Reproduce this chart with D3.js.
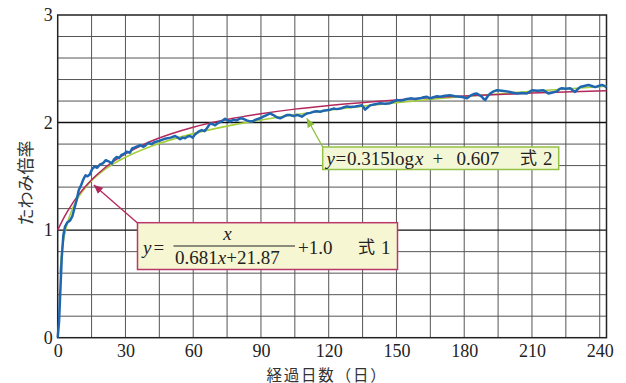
<!DOCTYPE html>
<html>
<head>
<meta charset="utf-8">
<script src="https://cdn.jsdelivr.net/npm/d3@7"></script>
<style>
  body { margin: 0; background: #fff; }
  svg { display: block; }
</style>
</head>
<body>
<div id="chart"></div>
<script>
var days = [0, 0.6, 1.2, 1.8, 2.5, 3.2, 4.2, 5.5, 6.5, 7.5, 8.4, 9.3, 10.4, 11.3, 12.3, 13.2, 14.3, 15.3, 16.3, 17.5,
  18.7, 20, 21.3, 22.5, 23.9, 25, 26.1, 27.2, 28.3, 29.5, 30.5, 32, 33, 34.2, 35.4, 36.5, 38, 39, 40.1, 41.5,
  43.1, 45, 47.5, 50, 52, 53.2, 54.2, 55.3, 56.4, 57.5, 58.6, 59.8, 60.8, 62.3, 63.8, 65, 66, 67.5, 68.7, 69.7,
  71, 72.5, 74.1, 75.2, 76.3, 77.8, 79.3, 80.8, 82.2, 83.7, 85.2, 86.6, 88, 89.6, 91, 92.5, 94, 95.5, 97, 98.5,
  100, 101.4, 102.9, 104.4, 105.9, 107, 108.1, 109.2, 110.3, 111.8, 113.2, 114.7, 116.2, 117.6, 119.1, 120.6, 122.1, 123.6, 125.1, 126.5,
  128, 129.8, 131.7, 133.2, 134.7, 135.5, 136.1, 137.2, 138.3, 140.5, 142.8, 145, 147.2, 148.7, 150.2, 151.7, 153.2, 154.6, 156.1, 158.3,
  160.5, 162, 163.5, 164.9, 166.4, 168, 169.3, 171.5, 173.7, 175.9, 178.2, 179.7, 181.2, 182.7, 184.2, 185.6, 186.7, 187.8, 188.6, 189.3,
  190.4, 191.5, 193, 194.5, 196.7, 198.9, 201.1, 203.3, 205.5, 207.7, 208.9, 210, 212.5, 215.1, 216.2, 217.3, 219.1, 221, 222.1, 223.2,
  225, 226.9, 228, 229.1, 230.2, 231.3, 233.1, 235, 236.5, 238, 239.5, 241, 242, 243];
var ratios = [0, 0.15, 0.45, 0.75, 0.95, 1.03, 1.07, 1.09, 1.13, 1.21, 1.28, 1.37, 1.42, 1.47, 1.51, 1.5, 1.52, 1.57, 1.59, 1.58,
  1.61, 1.62, 1.65, 1.64, 1.62, 1.66, 1.68, 1.67, 1.7, 1.71, 1.73, 1.72, 1.76, 1.77, 1.78, 1.79, 1.775, 1.79, 1.81, 1.8,
  1.82, 1.83, 1.85, 1.86, 1.875, 1.86, 1.845, 1.86, 1.855, 1.87, 1.875, 1.86, 1.89, 1.915, 1.93, 1.92, 1.945, 1.99, 1.985, 1.975,
  1.995, 2.01, 2.035, 2.02, 2.01, 2.025, 2.02, 2.04, 2.035, 2.02, 2.01, 2.015, 2.03, 2.04, 2.055, 2.07, 2.085, 2.07, 2.05, 2.04,
  2.055, 2.07, 2.07, 2.06, 2.07, 2.065, 2.055, 2.07, 2.085, 2.09, 2.1, 2.105, 2.1, 2.11, 2.115, 2.12, 2.13, 2.125, 2.13, 2.14,
  2.15, 2.145, 2.15, 2.155, 2.16, 2.14, 2.12, 2.14, 2.16, 2.17, 2.18, 2.175, 2.18, 2.195, 2.21, 2.205, 2.21, 2.22, 2.225, 2.22,
  2.225, 2.235, 2.24, 2.225, 2.235, 2.245, 2.24, 2.25, 2.255, 2.245, 2.24, 2.235, 2.225, 2.25, 2.265, 2.27, 2.255, 2.24, 2.22, 2.21,
  2.245, 2.27, 2.29, 2.3, 2.295, 2.29, 2.28, 2.27, 2.275, 2.27, 2.285, 2.3, 2.295, 2.3, 2.285, 2.27, 2.28, 2.29, 2.31, 2.32,
  2.315, 2.32, 2.3, 2.285, 2.31, 2.33, 2.34, 2.35, 2.34, 2.33, 2.34, 2.35, 2.34, 2.33];

// fitted curve 1 (red)
var fit1Days = [0, 2, 4, 6, 8, 10, 12, 15, 20, 25, 30, 40, 50, 60, 75, 90, 105, 120, 150, 180, 210, 243];
var fit1Vals = [1.0, 1.086, 1.163, 1.231, 1.293, 1.349, 1.399, 1.468, 1.564, 1.643, 1.709, 1.815, 1.894, 1.957, 2.028, 2.082, 2.125, 2.158, 2.21, 2.246, 2.274, 2.297];

// fitted curve 2 (green)
var fit2Days = [1, 2, 3, 4, 5, 6, 8, 10, 12, 15, 20, 25, 30, 40, 50, 60, 75, 90, 105, 120, 150, 180, 210, 243];
var fit2Vals = [0.607, 0.825, 0.953, 1.044, 1.114, 1.171, 1.262, 1.332, 1.39, 1.46, 1.551, 1.621, 1.678, 1.769, 1.839, 1.897, 1.967, 2.024, 2.073, 2.115, 2.185, 2.243, 2.291, 2.337];

var xTicks = [0, 30, 60, 90, 120, 150, 180, 210, 240];
var yTicks = [0, 1, 2, 3];

var width = 626,
    height = 383;
var margin = {top: 15, right: 19.5, bottom: 45.3, left: 57.7};
var innerW = width - margin.left - margin.right,
    innerH = height - margin.top - margin.bottom;

var svg = d3.select("#chart").append("svg")
    .attr("width", width)
    .attr("height", height);

var g = svg.append("g").attr("transform", "translate(" + margin.left + "," + margin.top + ")");

var x = d3.scaleLinear().domain([0, 243]).range([0, innerW]);
var y = d3.scaleLinear().domain([0, 3]).range([innerH, 0]);

// grid
g.append("g").selectAll("line")
  .data(d3.range(15, 241, 15))
  .enter().append("line")
    .attr("x1", function(d) { return x(d); })
    .attr("x2", function(d) { return x(d); })
    .attr("y1", 0)
    .attr("y2", innerH)
    .attr("stroke", "#555")
    .attr("stroke-width", 1);

g.append("g").selectAll("line")
  .data(d3.range(1, 15).map(function(i) { return i * 0.2; }))
  .enter().append("line")
    .attr("x1", 0)
    .attr("x2", innerW)
    .attr("y1", function(d) { return y(d); })
    .attr("y2", function(d) { return y(d); })
    .attr("stroke", function(d) { return Math.abs(d - Math.round(d)) < 1e-6 ? "#111" : "#555"; })
    .attr("stroke-width", function(d) { return Math.abs(d - Math.round(d)) < 1e-6 ? 1.4 : 1; });

g.append("rect")
    .attr("width", innerW)
    .attr("height", innerH)
    .attr("fill", "none")
    .attr("stroke", "#222")
    .attr("stroke-width", 1.5);

// axes labels
var xAxis = g.append("g")
    .attr("transform", "translate(0," + innerH + ")")
    .call(d3.axisBottom(x).tickValues(xTicks).tickSize(0).tickPadding(6.5).tickFormat(d3.format("d")));
var yAxis = g.append("g")
    .call(d3.axisLeft(y).tickValues(yTicks).tickSize(0).tickPadding(5).tickFormat(d3.format("d")));
[xAxis, yAxis].forEach(function(a) {
  a.attr("font-family", null).attr("font-size", null);
  a.select(".domain").remove();
  a.selectAll("text")
    .attr("font-family", "'Liberation Serif', serif")
    .attr("font-size", 18)
    .attr("fill", "#222");
});

svg.append("text")
    .attr("x", 327)
    .attr("y", 380.5)
    .attr("text-anchor", "middle")
    .attr("font-family", "'Noto Sans CJK JP', sans-serif")
    .attr("font-size", 15.5)
    .attr("letter-spacing", 1.8)
    .attr("fill", "#333")
    .text("経過日数（日）");

svg.append("text")
    .attr("transform", "translate(32,183) rotate(-90)")
    .attr("text-anchor", "middle")
    .attr("font-family", "'Noto Sans CJK JP', sans-serif")
    .attr("font-size", 17)
    .attr("fill", "#333")
    .text("たわみ倍率");

// lines
var line = d3.line()
    .x(function(d) { return x(d[0]); })
    .y(function(d) { return y(d[1]); });

g.append("path")
    .datum(d3.zip(fit2Days, fit2Vals))
    .attr("fill", "none")
    .attr("stroke", "#a6cf3c")
    .attr("stroke-width", 1.6)
    .attr("d", line.curve(d3.curveMonotoneX));

g.append("path")
    .datum(d3.zip(fit1Days, fit1Vals))
    .attr("fill", "none")
    .attr("stroke", "#b3285c")
    .attr("stroke-width", 1.5)
    .attr("d", line.curve(d3.curveMonotoneX));

g.append("path")
    .datum(d3.zip(days, ratios))
    .attr("fill", "none")
    .attr("stroke", "#1f66b0")
    .attr("stroke-width", 2.5)
    .attr("stroke-linejoin", "round")
    .attr("d", line.curve(d3.curveLinear));

// arrows
var defs = svg.append("defs");
[["arrRed", "#b3285c"], ["arrGreen", "#8dbf3a"]].forEach(function(m) {
  defs.append("marker")
      .attr("id", m[0])
      .attr("viewBox", "0 -5 10 10")
      .attr("refX", 10)
      .attr("markerWidth", 9)
      .attr("markerHeight", 9)
      .attr("markerUnits", "userSpaceOnUse")
      .attr("orient", "auto")
    .append("path")
      .attr("d", "M0,-4.5L10,0L0,4.5Z")
      .attr("fill", m[1]);
});

svg.append("line")
    .attr("x1", 137.5).attr("y1", 223)
    .attr("x2", margin.left + x(16)).attr("y2", margin.top + y(1.42))
    .attr("stroke", "#b3285c")
    .attr("stroke-width", 1.3)
    .attr("marker-end", "url(#arrRed)");

svg.append("line")
    .attr("x1", 323).attr("y1", 147.5)
    .attr("x2", margin.left + x(110.3)).attr("y2", margin.top + y(2.04))
    .attr("stroke", "#8dbf3a")
    .attr("stroke-width", 1.3)
    .attr("marker-end", "url(#arrGreen)");

// equation boxes
var serif = "'Liberation Serif', serif",
    cjk = "'Noto Sans CJK JP', sans-serif";

function piece(px, py, txt, opts) {
  opts = opts || {};
  return svg.append("text")
      .attr("x", px)
      .attr("y", py)
      .attr("font-family", opts.family || serif)
      .attr("font-size", opts.size || 19)
      .attr("font-style", opts.italic ? "italic" : null)
      .attr("text-anchor", opts.anchor || "start")
      .attr("fill", "#222")
      .text(txt);
}

svg.append("rect")
    .attr("x", 137.5).attr("y", 222.7)
    .attr("width", 260).attr("height", 46.8)
    .attr("fill", "#f6f6d2")
    .attr("stroke", "#b8386a")
    .attr("stroke-width", 1.5);

piece(143, 253.5, "y", {italic: true});
piece(153.5, 253.5, "=");
piece(227.5, 239.5, "x", {italic: true, anchor: "middle"});
svg.append("line")
    .attr("x1", 173.5).attr("x2", 295)
    .attr("y1", 246).attr("y2", 246)
    .attr("stroke", "#222").attr("stroke-width", 1);
var den = piece(175, 263.5, "0.681");
den.append("tspan").attr("font-style", "italic").text("x");
den.append("tspan").text("+21.87");
piece(298, 253.5, "+1.0");
piece(358, 252.5, "式", {family: cjk, size: 17});
piece(381, 253.5, "1");

svg.append("rect")
    .attr("x", 322.7).attr("y", 147)
    .attr("width", 236).attr("height", 22.5)
    .attr("fill", "#f4f7d6")
    .attr("stroke", "#93c244")
    .attr("stroke-width", 1.5);

piece(326.5, 164.5, "y", {italic: true});
piece(335.5, 164.5, "=");
piece(347, 164.5, "0.315log");
piece(415, 164.5, "x", {italic: true});
piece(432.5, 164.5, "+");
piece(456.5, 164.5, "0.607");
piece(520, 163.5, "式", {family: cjk, size: 17});
piece(543, 164.5, "2");
</script>
</body>
</html>
